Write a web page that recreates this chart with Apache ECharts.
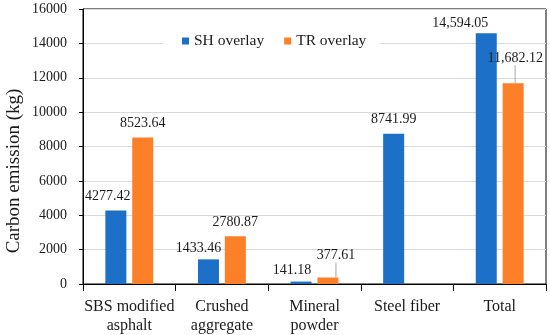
<!DOCTYPE html>
<html>
<head>
<meta charset="utf-8">
<script src="https://cdn.jsdelivr.net/npm/echarts@6/dist/echarts.min.js"></script>
<style>
html,body{margin:0;padding:0;background:#fff;}
#chart{width:550px;height:335px;}
</style>
</head>
<body>
<div id="chart"></div>
<script>
// ---- data ----
const categories = ['SBS modified\nasphalt', 'Crushed\naggregate', 'Mineral\npowder', 'Steel fiber', 'Total'];
const seriesNames = ['SH overlay', 'TR overlay'];
const shOverlay = [4277.42, 1433.46, 141.18, 8741.99, 14594.05];
const trOverlay = [8523.64, 2780.87, 377.61, null, 11682.12];
const yMin = 0, yMax = 16000, yInterval = 2000;
const yTitle = 'Carbon emission (kg)';

// ---- label nudges (style only) ----
const shNudge = [[-8, 0], [-10, 3], [-9, 3], [0, 0], [-26, 4]];
const trNudge = [[0, 0], [0, 0], [8, -8], [0, 0], [2, -11]];
const trLeader = [false, false, true, false, true];

const FONT = 'Liberation Serif';
const TXT = '#1a1a1a';

function fmt(v) {
  let s = v.toFixed(2);
  if (v >= 10000) {
    const parts = s.split('.');
    parts[0] = parts[0].replace(/\B(?=(\d{3})+(?!\d))/g, ',');
    s = parts.join('.');
  }
  return s;
}

const trData = trOverlay.map((v, i) => trLeader[i] ? {
  value: v,
  labelLine: { show: true, length2: 0, lineStyle: { color: '#a6a6a6', width: 1 } }
} : v);

const chart = echarts.init(document.getElementById('chart'), null, { renderer: 'canvas' });
chart.setOption({
  animation: false,
  backgroundColor: '#fff',
  textStyle: { fontFamily: FONT },
  grid: { left: 83, right: 4, top: 9, bottom: 50, show: true, borderColor: '#000', borderWidth: 1, backgroundColor: 'transparent' },
  legend: {
    data: seriesNames,
    left: 163, top: 30,
    padding: [3, 13, 3, 19],
    backgroundColor: '#fff',
    itemWidth: 7, itemHeight: 7, itemGap: 20,
    icon: 'rect',
    textStyle: { fontFamily: FONT, fontSize: 15.5, color: TXT }
  },
  graphic: [{
    type: 'text', x: 14, y: 171, rotation: Math.PI / 2,
    style: { text: yTitle, font: '19px "Liberation Serif"', fill: TXT, align: 'center', verticalAlign: 'middle' }
  }],
  xAxis: {
    type: 'category', data: categories,
    axisLine: { lineStyle: { color: '#000', width: 1 } },
    axisTick: { show: true, length: 7, lineStyle: { color: '#000' } },
    axisLabel: { fontFamily: FONT, fontSize: 16, color: TXT, margin: 13, lineHeight: 19, interval: 0 },
    splitLine: { show: false }
  },
  yAxis: {
    type: 'value', min: yMin, max: yMax, interval: yInterval,
    axisLine: { show: true, lineStyle: { color: '#000', width: 1 } },
    axisTick: { show: true, length: 4, lineStyle: { color: '#000' } },
    axisLabel: { fontFamily: FONT, fontSize: 14, color: TXT, margin: 16, formatter: v => String(v) },
    splitLine: { show: true, lineStyle: { color: '#d9d9d9', width: 1 } }
  },
  series: [
    {
      name: seriesNames[0], type: 'bar', data: shOverlay,
      barWidth: 21, barGap: '28%',
      itemStyle: { color: '#1c70c8' },
      label: { show: true, position: 'top', distance: 7, fontFamily: FONT, fontSize: 14, color: TXT,
        formatter: p => fmt(p.value) },
      labelLayout: p => ({ dx: shNudge[p.dataIndex][0], dy: shNudge[p.dataIndex][1] })
    },
    {
      name: seriesNames[1], type: 'bar', data: trData,
      barWidth: 21, barGap: '28%',
      itemStyle: { color: '#fd7f28' },
      label: { show: true, position: 'top', distance: 7, fontFamily: FONT, fontSize: 14, color: TXT,
        formatter: p => (p.value == null ? '' : fmt(p.value)) },
      labelLayout: p => ({ dx: trNudge[p.dataIndex][0], dy: trNudge[p.dataIndex][1] })
    }
  ]
});
</script>
</body>
</html>
